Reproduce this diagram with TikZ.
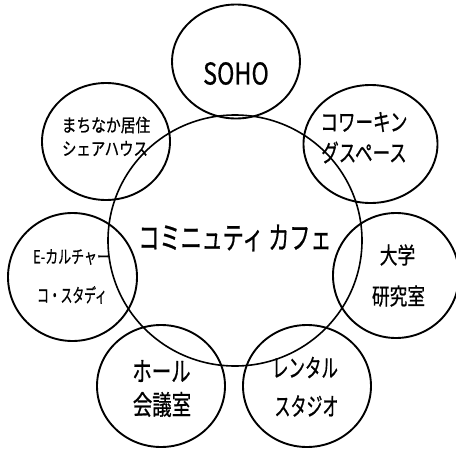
\documentclass[tikz,border=0pt]{standalone}
\usepackage{fontspec}
\usepackage{graphicx}
\newfontfamily\jp[FakeBold=0.8]{Noto Sans CJK JP}
\usetikzlibrary{shapes.geometric}
\newcommand{\jtext}[3]{\fontsize{#1}{#1}\selectfont\scalebox{#2}[1]{#3}}
\begin{document}
\begin{tikzpicture}[x=1pt,y=-1pt,
  ring/.style={draw, ellipse, line width=1.9pt, inner sep=0pt},
  lbl/.style={inner sep=0pt, font=\jp, anchor=center}]
\useasboundingbox (0,0) rectangle (456,450);
\fill[white] (0,0) rectangle (456,450);
% central circle
\node[ring, line width=1.6pt, minimum width=254pt, minimum height=251pt] (cafe) at (235,240.5) {};
% outer circles
\node[ring, minimum width=128pt, minimum height=114pt] (soho) at (236,61.5) {};
\node[ring, minimum width=128pt, minimum height=117pt] (machi) at (106,141.5) {};
\node[ring, minimum width=134pt, minimum height=118pt] (cowork) at (370.5,144) {};
\node[ring, minimum width=129pt, minimum height=128pt] (eculture) at (72.5,277) {};
\node[ring, minimum width=126pt, minimum height=125pt] (univ) at (396,275.5) {};
\node[ring, minimum width=128pt, minimum height=122pt] (hall) at (161,386) {};
\node[ring, minimum width=128pt, minimum height=122pt] (rental) at (307,386) {};
% labels
\node[lbl] (tcafe) at (235,238) {\jtext{31}{0.68}{コミニュティ カフェ}};
\node[lbl] (tsoho) at (236,73.5) {\jtext{30}{0.78}{SOHO}};
\node[lbl] (tmachi1) at (106,125) {\jtext{18}{0.82}{まちなか居住}};
\node[lbl] (tmachi2) at (105,148.5) {\jtext{18}{0.8}{シェアハウス}};
\node[lbl] (tcow1) at (364,122) {\jtext{24}{0.73}{コワーキン}};
\node[lbl] (tcow2) at (364,152.5) {\jtext{24}{0.73}{グスペース}};
\node[lbl] (teco1) at (71.5,257) {\jtext{18}{0.72}{E-カルチャー}};
\node[lbl] (teco2) at (72,295) {\jtext{19}{0.62}{コ・スタディ}};
\node[lbl] (tuniv1) at (397.5,255) {\jtext{23}{0.77}{大学}};
\node[lbl] (tuniv2) at (398.5,296) {\jtext{23}{0.77}{研究室}};
\node[lbl] (thall1) at (161.5,371) {\jtext{27}{0.72}{ホール}};
\node[lbl] (thall2) at (162,404.5) {\jtext{27}{0.72}{会議室}};
\node[lbl] (trent1) at (305,367.5) {\jtext{25}{0.66}{レンタル}};
\node[lbl] (trent2) at (306.5,406) {\jtext{25}{0.64}{スタジオ}};
\end{tikzpicture}
\end{document}
